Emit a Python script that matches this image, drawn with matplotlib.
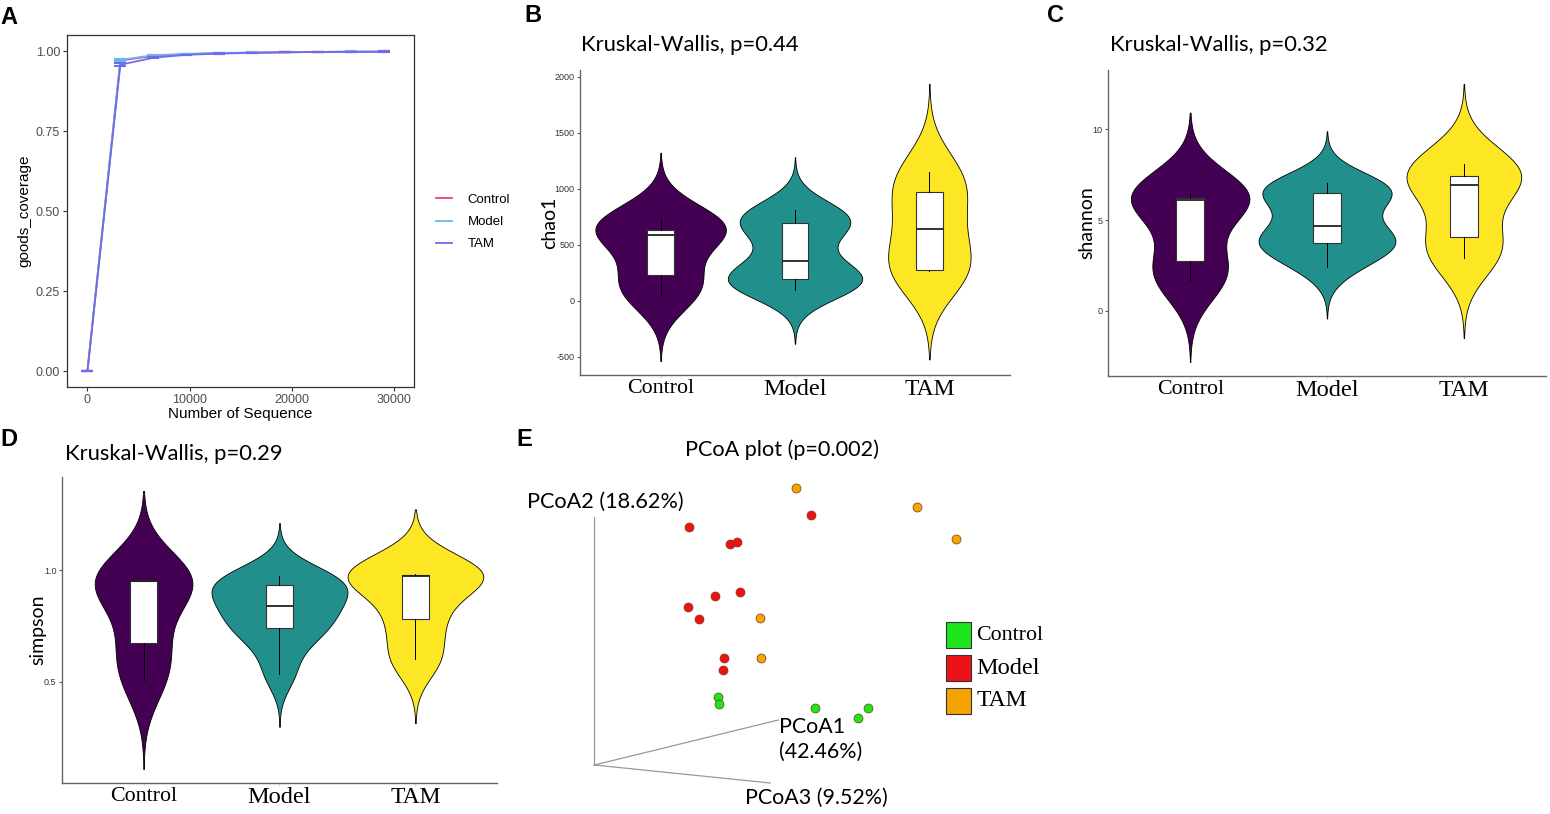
import numpy as np
import matplotlib.pyplot as plt
from matplotlib.patches import Rectangle

# ---------------- data ----------------
groups = ['Control', 'Model', 'TAM']

# A: Good's coverage rarefaction
seq_depth = [0, 3225, 6450, 9675, 12900, 16125, 19350, 22575, 25800, 29025]
cov_control = [0.0, 0.970, 0.985, 0.990, 0.993, 0.995, 0.996, 0.997, 0.998, 0.998]
cov_model = [0.0, 0.972, 0.987, 0.991, 0.994, 0.995, 0.996, 0.997, 0.998, 0.998]
cov_tam = [0.0, 0.957, 0.979, 0.988, 0.992, 0.994, 0.996, 0.997, 0.997, 0.998]
err_control = [0.0, 0.003, 0.002, 0.001, 0.001, 0.001, 0.0005, 0.0005, 0.0005, 0.0005]
err_model = [0.0, 0.003, 0.002, 0.001, 0.001, 0.001, 0.0005, 0.0005, 0.0005, 0.0005]
err_tam = [0.0, 0.004, 0.002, 0.001, 0.001, 0.001, 0.0005, 0.0005, 0.0005, 0.0005]

# B-D: alpha diversity per sample
chao1_control = [40, 230, 590, 630, 740]
chao1_model = [90, 150, 190, 210, 240, 460, 670, 697, 740, 805]
chao1_tam = [260, 275, 640, 970, 1150]
shannon_control = [1.62, 2.75, 6.1, 6.2, 6.48]
shannon_model = [2.4, 3.3, 3.7, 3.9, 4.2, 5.2, 6.3, 6.54, 6.8, 7.07]
shannon_tam = [2.92, 4.06, 6.96, 7.42, 8.08]
simpson_control = [0.51, 0.675, 0.951, 0.951, 0.955]
simpson_model = [0.537, 0.68, 0.73, 0.782, 0.82, 0.858, 0.92, 0.941, 0.96, 0.973]
simpson_tam = [0.603, 0.781, 0.975, 0.979, 0.985]

p_chao1, p_shannon, p_simpson = 0.44, 0.32, 0.29

# E: PCoA, projected sample positions (3D frame origin = 0,0)
pc_control_x = [124, 125, 221, 274, 264]
pc_control_y = [68, 61, 57, 57, 47]
pc_model_x = [95, 136, 143, 217, 121, 146, 94, 105, 130, 129]
pc_model_y = [238, 221, 223, 250, 169, 173, 158, 146, 107, 95]
pc_tam_x = [202, 323, 362, 166, 167]
pc_tam_y = [277, 258, 226, 147, 107]
pcoa_axes_end = {'PCoA2': (0, 248), 'PCoA1': (184, 45), 'PCoA3': (176, -18)}
pcoa_p = 0.002

# ---------------- style ----------------
line_colors = ['#EE3B8C', '#6BB6E6', '#6D6DEB']
violin_colors = ['#440154', '#21908C', '#FDE725']
pcoa_colors = ['#1EE61E', '#EC1218', '#F5A300']
cat_sizes = [15.8, 17.6, 17.0]
sans = 'Liberation Sans'
title_font = 'Lato'
serif = 'Liberation Serif'

W, H = 1550, 814
fig = plt.figure(figsize=(W / 100, H / 100), dpi=100)


def px_axes(left, top, right, bottom):
    return fig.add_axes([left / W, 1 - bottom / H, (right - left) / W, (bottom - top) / H])


def nrd0(v):
    q75, q25 = np.percentile(v, [75, 25])
    return 0.9 * min(np.std(v, ddof=1), (q75 - q25) / 1.34) * len(v) ** -0.2


def violin_panel(ax, data, ylabel, yticks, yticklabels, label_x, width=1.0):
    curves = []
    for vals in data:
        v = np.asarray(vals, float)
        bw = nrd0(v)
        grid = np.linspace(v.min() - 3 * bw, v.max() + 3 * bw, 512)
        d = np.exp(-0.5 * ((grid[:, None] - v[None, :]) / bw) ** 2).sum(1) / (len(v) * bw * np.sqrt(2 * np.pi))
        curves.append((grid, d))
    dmax = max(d.max() for _, d in curves)
    for i, (grid, d) in enumerate(curves):
        half = d / dmax * width / 2
        ax.fill_betweenx(grid, i + 1 - half, i + 1 + half, facecolor=violin_colors[i],
                         edgecolor='black', linewidth=0.6, zorder=1)
    ax.boxplot(data, positions=[1, 2, 3], widths=0.2, patch_artist=True, showcaps=False,
               showfliers=False,
               boxprops=dict(facecolor='white', edgecolor='#333333', linewidth=0.8),
               medianprops=dict(color='#222222', linewidth=1.3),
               whiskerprops=dict(color='black', linewidth=0.7), zorder=2)
    lo = min(g.min() for g, _ in curves)
    hi = max(g.max() for g, _ in curves)
    pad = 0.05 * (hi - lo)
    ax.set_ylim(lo - pad, hi + pad)
    ax.set_xlim(0.4, 3.6)
    ax.set_xticks([1, 2, 3])
    ax.set_xticklabels(groups, family=serif)
    for lab, fs in zip(ax.get_xticklabels(), cat_sizes):
        lab.set_fontsize(fs)
    ax.set_yticks(yticks)
    ax.set_yticklabels(yticklabels, family=sans, fontsize=6.5, color='#333333')
    ax.tick_params(axis='x', length=2, color='#dddddd', pad=1)
    ax.tick_params(axis='y', length=2, color='#555555', pad=2)
    ax.set_ylabel(ylabel, family=title_font, fontsize=14)
    ax.yaxis.set_label_coords(label_x, 0.5)
    for s in ['top', 'right']:
        ax.spines[s].set_visible(False)
    for s in ['left', 'bottom']:
        ax.spines[s].set_color('#666666')
        ax.spines[s].set_linewidth(1.0)


# ---------------- A ----------------
axA = px_axes(67, 35, 414, 387)
covs = [cov_control, cov_model, cov_tam]
errs = [err_control, err_model, err_tam]
for g, c, y in zip(groups, line_colors, covs):
    axA.plot(seq_depth, y, color=c, linewidth=1.3, label=g)
for c, y, e in zip(line_colors, covs, errs):
    axA.errorbar(seq_depth, y, yerr=e, fmt='none', ecolor=c, capsize=4, elinewidth=1, capthick=1.5)
axA.set_xlim(-2000, 31970)
axA.set_ylim(-0.05, 1.05)
axA.set_xticks([0, 10000, 20000, 30000])
axA.set_yticks([0, 0.25, 0.5, 0.75, 1.0])
axA.set_yticklabels(['0.00', '0.25', '0.50', '0.75', '1.00'])
for lab in axA.get_xticklabels() + axA.get_yticklabels():
    lab.set_family(sans)
    lab.set_fontsize(9)
    lab.set_color('#4D4D4D')
axA.tick_params(length=3, color='#333333', pad=2)
axA.set_xlabel('Number of Sequence', family=sans, fontsize=11, labelpad=1)
axA.set_ylabel('goods_coverage', family=sans, fontsize=11, labelpad=3)
for s in axA.spines.values():
    s.set_color('#333333')
    s.set_linewidth(0.9)
axA.legend(loc='center left', bbox_to_anchor=(436 / W, 1 - 222 / H), bbox_transform=fig.transFigure,
           frameon=False, prop={'family': sans, 'size': 9.5}, handlelength=1.2,
           handletextpad=1.2, labelspacing=0.75, borderpad=0, borderaxespad=0)

# ---------------- B, C, D ----------------
axB = px_axes(580, 70, 1010, 375)
violin_panel(axB, [chao1_control, chao1_model, chao1_tam], 'chao1',
             [-500, 0, 500, 1000, 1500, 2000], ['-500', '0', '500', '1000', '1500', '2000'], -0.05)
axC = px_axes(1108, 70, 1546, 376)
violin_panel(axC, [shannon_control, shannon_model, shannon_tam], 'shannon',
             [0, 5, 10], ['0', '5', '10'], -0.029)
axD = px_axes(62, 477, 497, 783)
violin_panel(axD, [simpson_control, simpson_model, simpson_tam], 'simpson',
             [0.5, 1.0], ['0.5', '1.0'], -0.037)

for x, y, p in [(581, 45, p_chao1), (1110, 45, p_shannon), (65, 454, p_simpson)]:
    fig.text(x / W, 1 - y / H, 'Kruskal-Wallis, p=%s' % p, family=title_font, fontsize=15.8, va='center')

# ---------------- E ----------------
axE = fig.add_axes([510 / W, 0, 560 / W, 394 / H])
axE.set_xlim(-84.3, 475.7)
axE.set_ylim(-49, 345)
axE.axis('off')
for name, (ex, ey) in pcoa_axes_end.items():
    axE.plot([0, ex], [0, ey], color='#999999', linewidth=0.9)
for xs, ys, c in zip([pc_control_x, pc_model_x, pc_tam_x], [pc_control_y, pc_model_y, pc_tam_y], pcoa_colors):
    axE.scatter(xs, ys, s=42, color=c, edgecolors='#7a3a10', linewidths=0.5, zorder=3)
axE.text(188, 315, 'PCoA plot (p=%s)' % pcoa_p, family=title_font, fontsize=15.6, ha='center', va='center')
axE.text(-67, 263, 'PCoA2 (18.62%)', family=title_font, fontsize=15.6, ha='left', va='center')
axE.text(185, 38, 'PCoA1', family=title_font, fontsize=15.4, ha='left', va='center')
axE.text(185, 13, '(42.46%)', family=title_font, fontsize=15.4, ha='left', va='center')
axE.text(222, -33, 'PCoA3 (9.52%)', family=title_font, fontsize=15.4, ha='center', va='center')
for i, (g, c) in enumerate(zip(groups, pcoa_colors)):
    yc = 130 - i * 33
    axE.add_patch(Rectangle((352, yc - 13), 25, 26, facecolor=c, edgecolor='#333333', linewidth=0.8))
    axE.text(382, yc, g, family=serif, fontsize=cat_sizes[i], ha='left', va='center')

# panel letters
for letter, x, y in [('A', 0, 17), ('B', 524, 15), ('C', 1047, 15), ('D', 0, 440), ('E', 516, 440)]:
    fig.text(x / W, 1 - y / H, letter, family=sans, fontweight='bold', fontsize=17, va='center')

fig.savefig('out.png', dpi=100, facecolor='white')
